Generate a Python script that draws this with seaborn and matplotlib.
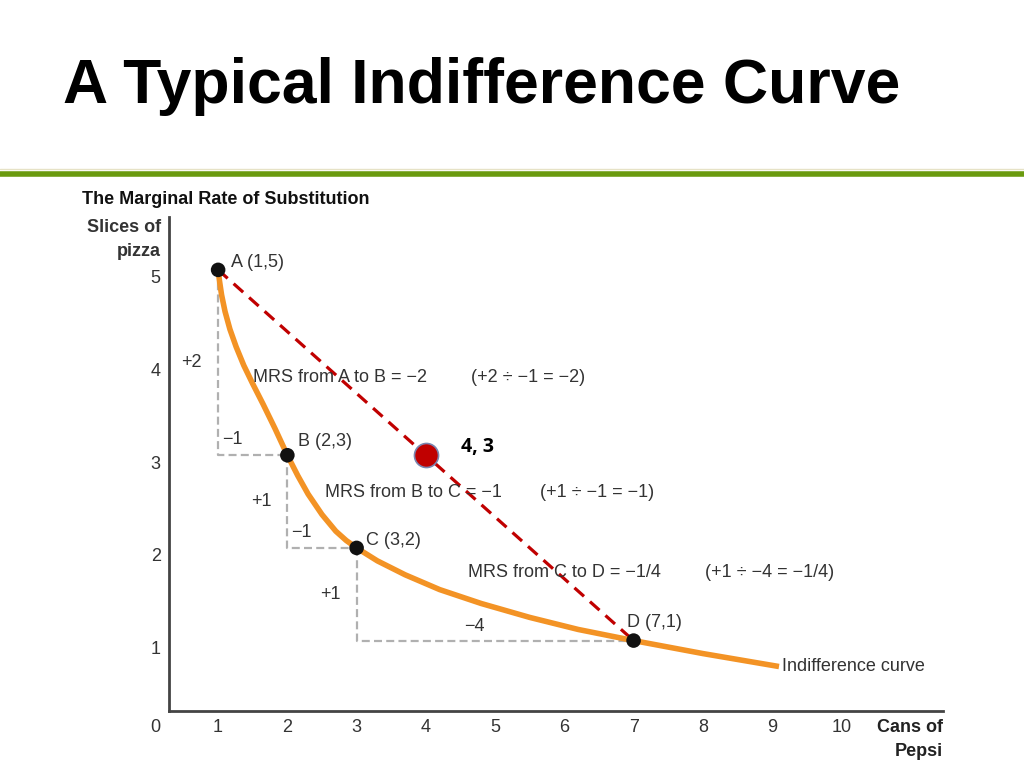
import matplotlib.pyplot as plt
import matplotlib.transforms as mtransforms
import seaborn as sns
import pandas as pd
from matplotlib.lines import Line2D

# Bundles on the indifference curve
point_names = ["A", "B", "C", "D"]
point_x = [1, 2, 3, 7]
point_y = [5, 3, 2, 1]

# Indifference curve
curve_x = [1.0, 1.02, 1.05, 1.1, 1.17, 1.26, 1.37, 1.5, 1.65, 1.82, 2.0,
           2.15, 2.3, 2.5, 2.7, 2.85, 3.0,
           3.3, 3.7, 4.2, 4.8, 5.5, 6.2, 7.0, 8.0, 9.1]
curve_y = [5.0, 4.88, 4.73, 4.55, 4.36, 4.17, 3.97, 3.77, 3.55, 3.29, 3.0,
           2.78, 2.58, 2.36, 2.18, 2.08, 2.0,
           1.86, 1.71, 1.55, 1.4, 1.25, 1.12, 1.0, 0.86, 0.72]

# Steps between bundles
rise_labels = ["+2", "+1", "+1"]
run_labels = ["\u22121", "\u22121", "\u22124"]
mrs_labels = ["MRS from A to B = \u22122", "MRS from B to C = \u22121", "MRS from C to D = \u22121/4"]
calc_labels = ["(+2 \u00f7 \u22121 = \u22122)", "(+1 \u00f7 \u22121 = \u22121)", "(+1 \u00f7 \u22124 = \u22121/4)"]

# Extra bundle on the line from A to D
bundle_x = 4
bundle_y = 3
bundle_label = "4, 3"

x_ticks = [1, 2, 3, 4, 5, 6, 7, 8, 9, 10]
y_ticks = [1, 2, 3, 4, 5]

sns.set_style("white")
plt.rcParams["font.family"] = ["Liberation Sans", "DejaVu Sans"]

txt = "#333333"
fig = plt.figure(figsize=(10.24, 7.68), dpi=100)
ax = fig.add_axes([0.165, 0.0742, 0.756, 0.6432])

# Gray dashed steps
for i in range(3):
    x0, y0 = point_x[i], point_y[i]
    x1, y1 = point_x[i + 1], point_y[i + 1]
    ax.plot([x0, x0, x1], [y0, y1, y1], color="#b0b0b0", lw=1.6,
            linestyle=(0, (3.6, 1.9)), zorder=1)

# Red dashed line A to D
ax.plot([point_x[0], point_x[3]], [point_y[0], point_y[3]], color="#c00000", lw=2.3,
        linestyle=(0, (4, 2.5)), zorder=2)

curve = pd.DataFrame({"x": curve_x, "y": curve_y})
sns.lineplot(data=curve, x="x", y="y", color="#f39325", lw=4, ax=ax, zorder=3,
             solid_capstyle="butt", solid_joinstyle="round")

pts = pd.DataFrame({"x": point_x, "y": point_y})
sns.scatterplot(data=pts, x="x", y="y", color="#111111", s=110, edgecolor="none",
                ax=ax, zorder=5)

sns.scatterplot(x=[bundle_x], y=[bundle_y], color="#c00000", s=300,
                edgecolor="#7a86b0", linewidth=1.2, ax=ax, zorder=6)
ax.annotate(bundle_label, (bundle_x, bundle_y), xytext=(25, 6), textcoords="offset points",
            fontsize=14, fontweight="bold", family=["Open Sans", "DejaVu Sans"],
            color="black", va="center", ha="left")

# Point labels
label_off = [(9, 5), (8, 10), (7, 5), (-5, 13)]
for n, x, y, off in zip(point_names, point_x, point_y, label_off):
    ax.annotate(f"{n} ({x},{y})", (x, y), xytext=off, textcoords="offset points",
                fontsize=13, color=txt, ha="left", va="center")

# Rise / run labels
for i in range(3):
    x0, y0 = point_x[i], point_y[i]
    x1, y1 = point_x[i + 1], point_y[i + 1]
    ax.annotate(rise_labels[i], (x0, (y0 + y1) / 2), xytext=(-19, 0), textcoords="offset points",
                fontsize=13, color=txt, ha="center", va="center")
    if i < 2:
        ax.annotate(run_labels[i], (x0, y1), xytext=(3, 11), textcoords="offset points",
                    fontsize=13, color=txt, ha="left", va="center")
    else:
        ax.annotate(run_labels[i], ((x0 + x1) / 2, y1), xytext=(-15, 10),
                    textcoords="offset points", fontsize=13, color=txt,
                    ha="center", va="center")

mrs_pos = [(1.5, 3.84), (2.54, 2.6), (4.61, 1.73)]
calc_pos = [4.65, 5.65, 8.03]
for lab, calc, (x, y), cx in zip(mrs_labels, calc_labels, mrs_pos, calc_pos):
    ax.text(x, y, lab, fontsize=13, color=txt, ha="left", va="center")
    ax.text(cx, y, calc, fontsize=13, color=txt, ha="left", va="center")

ax.annotate("Indifference curve", (curve_x[-1], curve_y[-1]), xytext=(2, 0),
            textcoords="offset points", fontsize=13, color=txt, ha="left", va="center")

ax.set_xlim(0.29, 11.47)
ax.set_ylim(0.24, 5.57)
ax.set_xticks(x_ticks)
ax.set_yticks(y_ticks)
ax.set_xticklabels([str(t) for t in x_ticks], fontsize=13, color=txt)
ax.set_yticklabels([str(t) for t in y_ticks], fontsize=13, color=txt)
ax.tick_params(length=0, pad=6)
shift = mtransforms.ScaledTranslation(0, -7 / 100, fig.dpi_scale_trans)
for lab in ax.get_yticklabels():
    lab.set_transform(lab.get_transform() + shift)
ax.set_xlabel("")
ax.set_ylabel("")
sns.despine(ax=ax)
for s in ["left", "bottom"]:
    ax.spines[s].set_color("#444444")
    ax.spines[s].set_linewidth(2)

ax.annotate("0", (0.087, 0), xycoords=("data", "axes fraction"), xytext=(0, -6),
            textcoords="offset points", fontsize=13, color=txt, ha="center", va="top",
            annotation_clip=False)

# Axis titles
fig.text(161 / 1024, 1 - 227 / 768, "Slices of", fontsize=13, fontweight="bold",
         color=txt, ha="right", va="center")
fig.text(161 / 1024, 1 - 251 / 768, "pizza", fontsize=13, fontweight="bold",
         color=txt, ha="right", va="center")
fig.text(943 / 1024, 1 - 728 / 768, "Cans of", fontsize=13, fontweight="bold",
         color="#222222", ha="right", va="center")
fig.text(943 / 1024, 1 - 751 / 768, "Pepsi", fontsize=13, fontweight="bold",
         color="#222222", ha="right", va="center")
fig.text(82 / 1024, 1 - 200 / 768, "The Marginal Rate of Substitution", fontsize=13,
         fontweight="bold", color="#111111", ha="left", va="center")

# Slide header
fig.text(63 / 1024, 1 - 87 / 768, "A Typical Indifference Curve", fontsize=45,
         fontweight="bold", color="black", ha="left", va="center")
fig.add_artist(Line2D([0, 1], [1 - 169 / 768, 1 - 169 / 768], color="#e6e2c6", lw=1))
fig.add_artist(Line2D([0, 1], [1 - 174 / 768, 1 - 174 / 768], color="#6a9a0e", lw=4))

fig.savefig("out.png", dpi=100)
